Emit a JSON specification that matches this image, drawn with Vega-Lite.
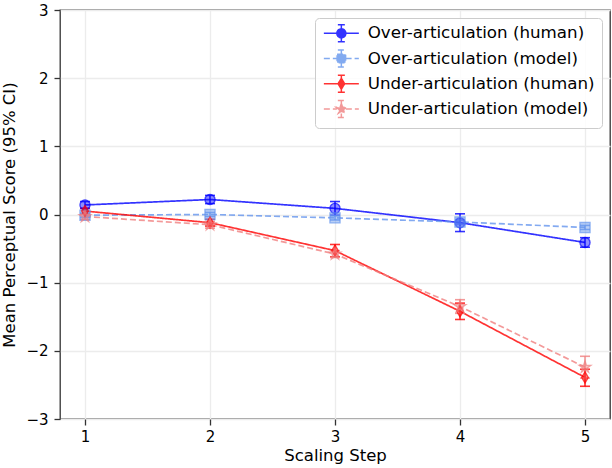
{
  "$schema": "https://vega.github.io/schema/vega-lite/v6.json",
  "width": 550,
  "height": 409,
  "autosize": {"type": "none"},
  "padding": {"left": 60, "top": 10, "right": 2, "bottom": 49},
  "background": "white",
  "data": {"values": [
    {"series": "Over-articulation (human)", "step": 1, "mean": 0.14, "lo": 0.09, "hi": 0.19},
    {"series": "Over-articulation (human)", "step": 2, "mean": 0.22, "lo": 0.16, "hi": 0.28},
    {"series": "Over-articulation (human)", "step": 3, "mean": 0.09, "lo": -0.01, "hi": 0.19},
    {"series": "Over-articulation (human)", "step": 4, "mean": -0.12, "lo": -0.25, "hi": 0.01},
    {"series": "Over-articulation (human)", "step": 5, "mean": -0.41, "lo": -0.48, "hi": -0.34},
    {"series": "Over-articulation (model)", "step": 1, "mean": -0.01, "lo": -0.04, "hi": 0.02},
    {"series": "Over-articulation (model)", "step": 2, "mean": 0.0, "lo": -0.03, "hi": 0.03},
    {"series": "Over-articulation (model)", "step": 3, "mean": -0.05, "lo": -0.08, "hi": -0.02},
    {"series": "Over-articulation (model)", "step": 4, "mean": -0.11, "lo": -0.14, "hi": -0.08},
    {"series": "Over-articulation (model)", "step": 5, "mean": -0.19, "lo": -0.22, "hi": -0.16},
    {"series": "Under-articulation (human)", "step": 1, "mean": 0.05, "lo": 0.01, "hi": 0.09},
    {"series": "Under-articulation (human)", "step": 2, "mean": -0.12, "lo": -0.17, "hi": -0.07},
    {"series": "Under-articulation (human)", "step": 3, "mean": -0.53, "lo": -0.62, "hi": -0.44},
    {"series": "Under-articulation (human)", "step": 4, "mean": -1.42, "lo": -1.54, "hi": -1.3},
    {"series": "Under-articulation (human)", "step": 5, "mean": -2.39, "lo": -2.52, "hi": -2.27},
    {"series": "Under-articulation (model)", "step": 1, "mean": -0.03, "lo": -0.07, "hi": 0.01},
    {"series": "Under-articulation (model)", "step": 2, "mean": -0.15, "lo": -0.2, "hi": -0.1},
    {"series": "Under-articulation (model)", "step": 3, "mean": -0.58, "lo": -0.63, "hi": -0.53},
    {"series": "Under-articulation (model)", "step": 4, "mean": -1.35, "lo": -1.45, "hi": -1.25},
    {"series": "Under-articulation (model)", "step": 5, "mean": -2.24, "lo": -2.4, "hi": -2.08}
  ]},
  "encoding": {
    "x": {
      "field": "step", "type": "quantitative",
      "scale": {"domain": [0.8, 5.2], "nice": false, "zero": false},
      "axis": {"values": [1, 2, 3, 4, 5], "title": "Scaling Step", "format": "d"}
    },
    "color": {
      "field": "series", "type": "nominal", "title": null,
      "scale": {
        "domain": ["Over-articulation (human)", "Over-articulation (model)", "Under-articulation (human)", "Under-articulation (model)"],
        "range": ["#0000ff", "#6495ed", "#ff0000", "#f08080"]
      }
    }
  },
  "layer": [
    {
      "mark": {"type": "line", "strokeWidth": 1.7, "opacity": 0.8},
      "encoding": {
        "y": {
          "field": "mean", "type": "quantitative",
          "scale": {"domain": [-3, 3], "nice": false, "zero": false},
          "axis": {"values": [-3, -2, -1, 0, 1, 2, 3], "title": "Mean Perceptual Score (95% CI)", "format": "d"}
        },
        "strokeDash": {
          "field": "series", "type": "nominal", "title": null,
          "scale": {
            "domain": ["Over-articulation (human)", "Over-articulation (model)", "Under-articulation (human)", "Under-articulation (model)"],
            "range": [[1, 0], [6, 3], [1, 0], [6, 3]]
          }
        }
      }
    },
    {
      "mark": {"type": "rule", "strokeWidth": 1.6, "opacity": 0.8},
      "encoding": {
        "y": {"field": "lo", "type": "quantitative"},
        "y2": {"field": "hi"}
      }
    },
    {
      "mark": {"type": "tick", "orient": "horizontal", "thickness": 1.6, "size": 10, "opacity": 0.8},
      "encoding": {"y": {"field": "lo", "type": "quantitative"}}
    },
    {
      "mark": {"type": "tick", "orient": "horizontal", "thickness": 1.6, "size": 10, "opacity": 0.8},
      "encoding": {"y": {"field": "hi", "type": "quantitative"}}
    },
    {
      "transform": [{"filter": {"field": "series", "equal": "Over-articulation (human)"}}],
      "mark": {"type": "point", "shape": "circle", "filled": true, "size": 100, "opacity": 0.8, "fillOpacity": 0.55, "stroke": "#0000ff", "strokeWidth": 1.4, "strokeOpacity": 0.9},
      "encoding": {"y": {"field": "mean", "type": "quantitative"}}
    },
    {
      "transform": [{"filter": {"field": "series", "equal": "Over-articulation (model)"}}],
      "mark": {"type": "point", "shape": "square", "filled": true, "size": 100, "opacity": 0.8, "fillOpacity": 0.55, "stroke": "#6495ed", "strokeWidth": 1.4, "strokeOpacity": 0.9},
      "encoding": {"y": {"field": "mean", "type": "quantitative"}}
    },
    {
      "transform": [{"filter": {"field": "series", "equal": "Under-articulation (human)"}}],
      "mark": {"type": "point", "shape": "M0,-1.1L0.66,0L0,1.1L-0.66,0Z", "filled": true, "size": 100, "opacity": 0.8, "fillOpacity": 0.55, "stroke": "#ff0000", "strokeWidth": 1.4, "strokeOpacity": 0.9},
      "encoding": {"y": {"field": "mean", "type": "quantitative"}}
    },
    {
      "transform": [{"filter": {"field": "series", "equal": "Under-articulation (model)"}}],
      "mark": {"type": "point", "shape": "M0,-1.2L0.269,-0.371L1.141,-0.371L0.436,0.142L0.706,0.971L0,0.458L-0.706,0.971L-0.436,0.142L-1.141,-0.371L-0.269,-0.371Z", "filled": true, "size": 100, "opacity": 0.8, "fillOpacity": 0.55, "stroke": "#f08080", "strokeWidth": 1.4, "strokeOpacity": 0.9},
      "encoding": {"y": {"field": "mean", "type": "quantitative"}}
    },
    {
      "transform": [{"filter": "false"}],
      "mark": {"type": "point", "filled": false, "size": 100, "opacity": 0.8, "strokeWidth": 1.6},
      "encoding": {
        "y": {"field": "mean", "type": "quantitative"},
        "shape": {
          "field": "series", "type": "nominal", "title": null,
          "scale": {
            "domain": ["Over-articulation (human)", "Over-articulation (model)", "Under-articulation (human)", "Under-articulation (model)"],
            "range": [
              "M-3.5,0H-0.9M0.9,0H3.5M0,-1.7V-0.9M0,0.9V1.7M-0.7,-1.7H0.7M-0.7,1.7H0.7M0.9,0A0.9,0.9,0,1,1,-0.9,0A0.9,0.9,0,1,1,0.9,0Z",
              "M-3.5,0H-0.85M0.85,0H3.5M0,-1.7V-0.85M0,0.85V1.7M-0.7,-1.7H0.7M-0.7,1.7H0.7M-0.85,-0.85H0.85V0.85H-0.85Z",
              "M-3.5,0H-0.6M0.6,0H3.5M0,-1.7V-1.1M0,1.1V1.7M-0.7,-1.7H0.7M-0.7,1.7H0.7M0,-1.1L0.66,0L0,1.1L-0.66,0Z",
              "M-3.5,0H-0.9M0.9,0H3.5M0,-1.7V-1.1M0,0.9V1.7M-0.7,-1.7H0.7M-0.7,1.7H0.7M0,-1.1L0.247,-0.34L1.046,-0.34L0.4,0.13L0.647,0.89L0,0.42L-0.647,0.89L-0.4,0.13L-1.046,-0.34L-0.247,-0.34Z"
            ]
          }
        },
        "strokeDash": {"field": "series", "type": "nominal", "title": null}
      }
    }
  ],
  "config": {
    "view": {"stroke": "#333333", "strokeWidth": 1.3},
    "font": "DejaVu Sans",
    "legend": {
      "orient": "top-right",
      "offset": 8,
      "padding": 7,
      "fillColor": "rgba(255,255,255,0.85)",
      "strokeColor": "#cccccc",
      "cornerRadius": 4,
      "labelFontSize": 16.7,
      "labelFont": "DejaVu Sans",
      "labelColor": "black",
      "labelLimit": 400,
      "symbolSize": 100,
      "symbolOffset": 11,
      "labelOffset": 18,
      "rowPadding": 1.2
    },
    "axis": {
      "domain": false,
      "grid": true,
      "gridColor": "#ececec",
      "gridWidth": 1.3,
      "tickColor": "#333333",
      "tickSize": 6,
      "tickWidth": 1.3,
      "labelFont": "DejaVu Sans",
      "labelFontSize": 15,
      "labelColor": "black",
      "titleFont": "DejaVu Sans",
      "titleFontSize": 16.5,
      "titleFontWeight": "normal",
      "titleColor": "black"
    },
    "axisY": {"titlePadding": 8, "labelPadding": 6},
    "axisX": {"titlePadding": 3, "labelPadding": 4}
  }
}
